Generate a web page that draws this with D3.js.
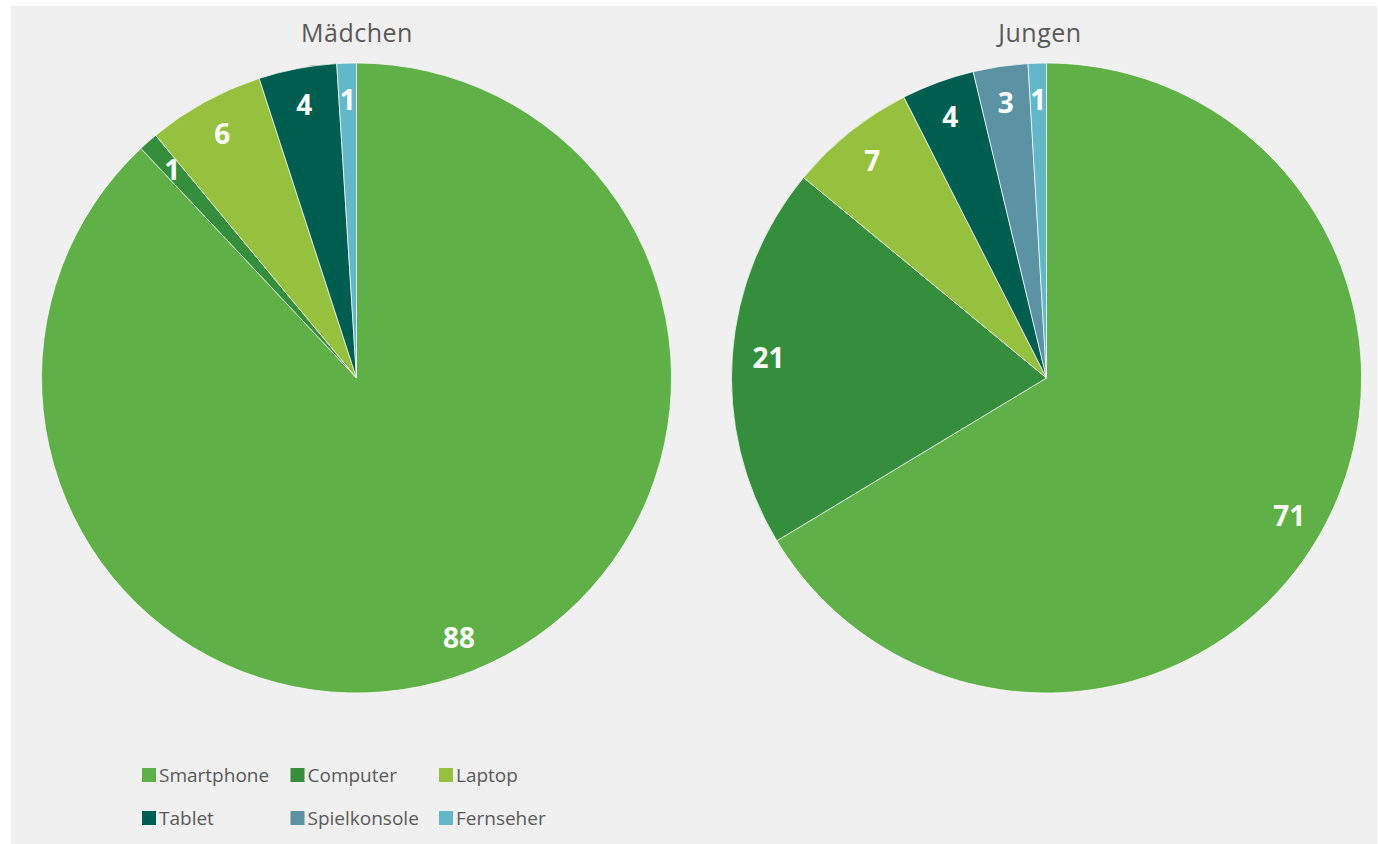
<!DOCTYPE html>
<html>
<head>
<meta charset="utf-8">
<script src="https://cdn.jsdelivr.net/npm/d3@7"></script>
<style>
  body { margin: 0; background: #fff; }
  text { font-family: "Open Sans", sans-serif; }
</style>
</head>
<body>
<svg id="chart" width="1378" height="844"></svg>
<script>
var categories = ["Smartphone", "Computer", "Laptop", "Tablet", "Spielkonsole", "Fernseher"];
var colors = ["#5fb046", "#358e3b", "#95c13e", "#005e50", "#5b93a4", "#62b8c9"];
var titles = ["Mädchen", "Jungen"];
var maedchen = [88, 1, 6, 4, 0, 1];
var jungen = [71, 21, 7, 4, 3, 1];

var svg = d3.select("#chart");

svg.append("rect")
  .attr("x", 11).attr("y", 6)
  .attr("width", 1366).attr("height", 838)
  .attr("fill", "#f0f0f0");

var color = d3.scaleOrdinal().domain(categories).range(colors);

var radius = 315;
var pies = [
  {title: titles[0], values: maedchen, cx: 356.5, tx: 357},
  {title: titles[1], values: jungen, cx: 1046.5, tx: 1040}
];

var pie = d3.pie().sort(null).value(function(d) { return d.value; });
var arc = d3.arc().innerRadius(0).outerRadius(radius);
var labelArc = d3.arc().innerRadius(radius * 0.885).outerRadius(radius * 0.885);

pies.forEach(function(p) {
  var data = categories.map(function(c, i) { return {cat: c, value: p.values[i]}; });

  svg.append("text")
    .attr("x", p.tx)
    .attr("y", 42)
    .attr("text-anchor", "middle")
    .attr("fill", "#595959")
    .style("font-size", "25px")
    .style("letter-spacing", "0.5px")
    .text(p.title);

  var g = svg.append("g")
    .attr("transform", "translate(" + p.cx + ",378)");

  var arcs = pie(data).filter(function(d) { return d.data.value > 0; });

  g.selectAll("path")
    .data(arcs)
    .enter().append("path")
      .attr("d", arc)
      .attr("fill", function(d) { return color(d.data.cat); })
      .attr("stroke", "#fff")
      .attr("stroke-width", 0.7);

  g.selectAll("text")
    .data(arcs)
    .enter().append("text")
      .attr("transform", function(d) { return "translate(" + labelArc.centroid(d) + ")"; })
      .attr("text-anchor", "middle")
      .attr("dy", "0.38em")
      .attr("fill", "#fff")
      .style("font-size", "28px")
      .style("font-weight", "bold")
      .text(function(d) { return d.data.value; });
});

// legend
var legend = svg.append("g");
var items = legend.selectAll("g")
  .data(categories)
  .enter().append("g")
    .attr("transform", function(d, i) {
      return "translate(" + (142 + (i % 3) * 148.5) + "," + (768 + Math.floor(i / 3) * 43) + ")";
    });

items.append("rect")
  .attr("width", 14).attr("height", 14)
  .attr("fill", function(d) { return color(d); });

items.append("text")
  .attr("x", 17)
  .attr("y", 14)
  .attr("fill", "#595959")
  .style("font-size", "19px")
  .text(function(d) { return d; });
</script>
</body>
</html>
